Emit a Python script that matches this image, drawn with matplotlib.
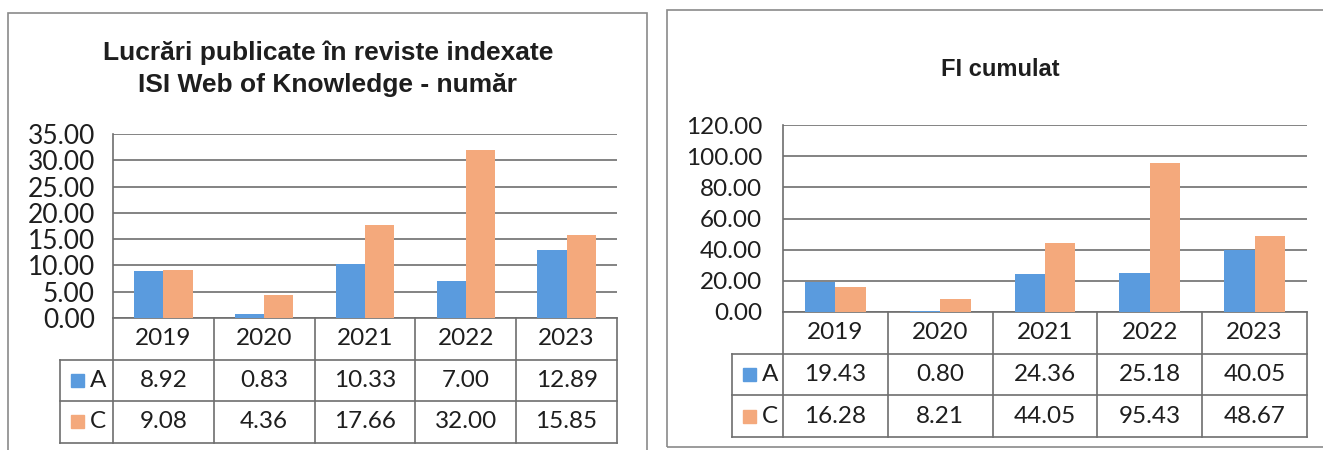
import numpy as np
import matplotlib
matplotlib.use("Agg")
import matplotlib.pyplot as plt
from matplotlib.patches import Rectangle

# data
years = ["2019", "2020", "2021", "2022", "2023"]
series = ["A", "C"]

papers_A = [8.92, 0.83, 10.33, 7.00, 12.89]
papers_C = [9.08, 4.36, 17.66, 32.00, 15.85]
papers_ticks = [0, 5, 10, 15, 20, 25, 30, 35]

fi_A = [19.43, 0.80, 24.36, 25.18, 40.05]
fi_C = [16.28, 8.21, 44.05, 95.43, 48.67]
fi_ticks = [0, 20, 40, 60, 80, 100, 120]

title_left = "Lucrări publicate în reviste indexate\nISI Web of Knowledge - număr"
title_right = "FI cumulat"

BLUE = "#5A9BDE"
ORANGE = "#F4A97C"
GRID = "#6e6e6e"
TXT = "#1e1e1e"
W, H = 1323, 450

plt.rcParams["font.family"] = ["Lato", "DejaVu Sans"]

fig = plt.figure(figsize=(W / 100, H / 100), dpi=100)


def fbox(x0, y0, x1, y1):
    # pixel box (top-left origin) -> figure fractions
    return [x0 / W, 1 - y1 / H, (x1 - x0) / W, (y1 - y0) / H]


def panel(rect, a, c, ticks, row_px, legcol_px, tick_fs, pad):
    ax = fig.add_axes(fbox(*rect))
    x = np.arange(len(years))
    w = 0.29
    ax.bar(x - w / 2, a, w, color=BLUE, zorder=3)
    ax.bar(x + w / 2, c, w, color=ORANGE, zorder=3)
    ax.set_xlim(-0.5, len(years) - 0.5)
    ax.set_ylim(ticks[0], ticks[-1])
    ax.set_yticks(ticks)
    ax.set_yticklabels([f"{t:.2f}" for t in ticks], fontsize=tick_fs, color=TXT)
    ax.tick_params(axis="y", length=0, pad=pad)
    ax.set_xticks([])
    ax.yaxis.grid(True, color=GRID, lw=1.2, zorder=0)
    for s in ["top", "right", "bottom"]:
        ax.spines[s].set_visible(False)
    ax.spines["left"].set_color(GRID)
    ax.spines["left"].set_linewidth(1.2)

    # data table under the plot
    hpx = (rect[3] - rect[1])
    wpx = (rect[2] - rect[0])
    rh = row_px / hpx
    unit = wpx / len(years)
    lx = -0.5 - legcol_px / unit
    tr = ax.get_xaxis_transform()
    kw = dict(color=GRID, lw=1.2, transform=tr, clip_on=False)
    ax.plot([-0.5, len(years) - 0.5], [0, 0], **kw)
    for k in range(1, 4):
        ax.plot([lx, len(years) - 0.5], [-k * rh, -k * rh], **kw)
    ax.plot([lx, lx], [-rh, -3 * rh], **kw)
    for b in np.arange(len(years) + 1) - 0.5:
        ax.plot([b, b], [0, -3 * rh], **kw)
    fs = 17.5
    for i, yr in enumerate(years):
        ax.text(i, -0.5 * rh, yr, transform=tr, ha="center", va="center",
                fontsize=fs, color=TXT)
        ax.text(i, -1.5 * rh, f"{a[i]:.2f}", transform=tr, ha="center",
                va="center", fontsize=fs, color=TXT)
        ax.text(i, -2.5 * rh, f"{c[i]:.2f}", transform=tr, ha="center",
                va="center", fontsize=fs, color=TXT)
    sq = 13 / unit
    for k, (name, col) in enumerate(zip(series, [BLUE, ORANGE])):
        yc = -(1.5 + k) * rh
        ax.add_patch(Rectangle((lx + 11 / unit, yc - 6.5 / hpx), sq, 13 / hpx,
                               color=col, transform=tr, clip_on=False))
        ax.text(lx + 30 / unit, yc, name, transform=tr, ha="left",
                va="center", fontsize=fs, color=TXT)
    return ax


panel((113, 134, 617, 318), papers_A, papers_C, papers_ticks, 41.5, 53, 19, 13)
panel((783, 125, 1307, 312), fi_A, fi_C, fi_ticks, 41.7, 51, 17.5, 15)

# chart-area frames
fig.patches.append(Rectangle((8 / W, 1 - 455 / H), 639 / W, 442 / H,
                             transform=fig.transFigure, fill=False,
                             ec="#8a8a8a", lw=1.2))
fig.patches.append(Rectangle((667 / W, 1 - 447 / H), 680 / W, 437 / H,
                             transform=fig.transFigure, fill=False,
                             ec="#8a8a8a", lw=1.2))

fig.text(328 / W, 1 - 69 / H, title_left, ha="center", va="center",
         fontsize=19, fontweight="bold", color=TXT,
         family=["Liberation Sans", "DejaVu Sans"], linespacing=1.4)
fig.text(1000 / W, 1 - 70 / H, title_right, ha="center", va="center",
         fontsize=17, fontweight="bold", color=TXT,
         family=["Liberation Sans", "DejaVu Sans"])

fig.savefig("out.png", dpi=100)
